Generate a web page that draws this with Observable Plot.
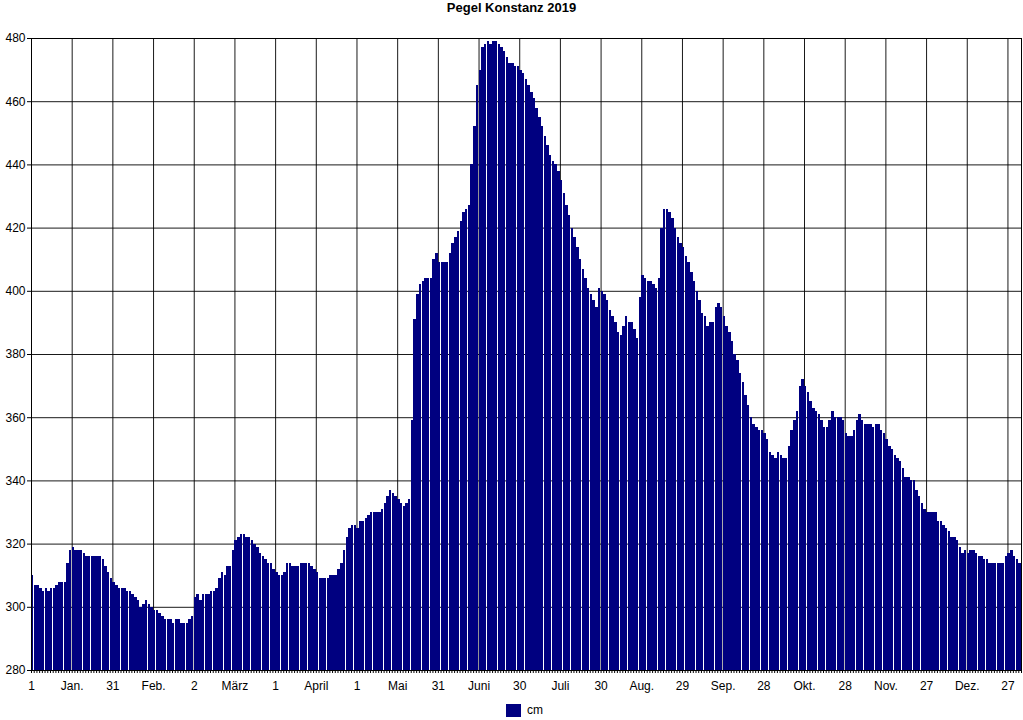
<!DOCTYPE html>
<html>
<head>
<meta charset="utf-8">
<script src="https://cdn.jsdelivr.net/npm/d3@7"></script>
<script src="https://cdn.jsdelivr.net/npm/@observablehq/plot@0.6"></script>
<style>
  body { margin: 0; background: #fff; font-family: "Liberation Sans", Arial, sans-serif; }
  #title { height: 20px; line-height: 16px; text-align: center; font-weight: bold; font-size: 13px; color: #000; }
  #chart svg { display: block; }
  #legend { display: flex; justify-content: center; align-items: center; gap: 6px; font-size: 12px; margin-top: 3px; padding-left: 26px; color: #000; }
  #legend .sw { display: inline-block; width: 15px; height: 13px; background: #000080; }
</style>
</head>
<body>
<div id="title">Pegel Konstanz 2019</div>
<div id="chart"></div>
<div id="legend"><span class="sw"></span><span>cm</span></div>
<script>
// Daily water level (cm), Pegel Konstanz 2019, one array per month
const jan = [310,307,307,306,305,306,305,306,306,307,308,308,308,314,318,319,318,318,318,317,316,316,316,316,316,316,315,313,311,309,308];
const feb = [307,306,306,306,305,305,304,303,302,300,301,302,301,300,299,299,298,297,296,296,296,295,296,296,295,295,295,296];
const mar = [297,303,304,302,304,304,304,305,305,306,309,311,310,313,313,318,321,322,323,323,322,322,321,320,319,317,316,315,314,314,312];
const apr = [311,310,310,311,314,314,313,313,313,314,314,314,314,313,312,311,309,309,309,309,310,310,310,312,314,318,322,325,326,326];
const may = [325,327,327,328,329,330,330,330,330,331,333,335,337,336,335,334,333,332,333,334,359,391,399,402,403,404,404,404,410,412,409];
const jun = [409,409,409,412,415,417,419,422,425,426,427,440,452,465,470,477,478,479,478,479,479,478,477,476,474,472,472,471,471,470];
const jul = [469,467,465,463,461,458,455,452,449,446,443,441,440,438,435,431,427,424,420,417,414,410,407,404,401,399,397,395,401,400,399];
const aug = [397,394,392,390,387,386,389,392,390,390,388,385,398,405,404,403,403,402,401,404,420,426,426,425,423,420,417,415,414,411,409];
const sep = [406,403,400,397,393,392,389,390,390,395,396,395,392,389,387,384,380,378,374,371,367,364,360,358,357,356,356,355,353,349];
const oct = [348,347,349,348,347,347,351,356,359,362,370,372,370,368,365,363,362,361,359,357,357,359,362,360,360,360,359,355,354,354,356];
const nov = [359,361,359,358,358,358,357,358,358,356,355,353,351,350,348,347,346,344,341,341,340,340,337,335,333,331,330,330,330,330];
const dec = [327,327,326,325,324,322,322,321,319,317,318,317,318,318,317,316,316,315,315,314,314,314,314,314,314,316,317,318,316,315,314];

// x-axis tick labels (every 15 days, starting on day 1)
const tickLabels = ["1","Jan.","31","Feb.","2","März","1","April","1","Mai","31","Juni","30","Juli","30","Aug.","29","Sep.","28","Okt.","28","Nov.","27","Dez.","27"];
const tickStep = 15;
const yTicks = [280,300,320,340,360,380,400,420,440,460,480];

const levels = [jan,feb,mar,apr,may,jun,jul,aug,sep,oct,nov,dec].flat();
const data = levels.map((v, i) => ({day: i + 1, value: v}));
const nDays = levels.length;
const xTicks = tickLabels.map((_, i) => i * tickStep);
const dayTicks = d3.range(0, nDays + 1);

const chart = Plot.plot({
  width: 1023,
  height: 680,
  marginTop: 18,
  marginLeft: 31,
  marginRight: 2,
  marginBottom: 30,
  style: {fontFamily: "'Liberation Sans', Arial, sans-serif", fontSize: "12px", color: "#000", background: "#fff"},
  x: {domain: [0, nDays], axis: null, label: null},
  y: {domain: [280, 480], axis: null, label: null},
  marks: [
    Plot.gridX(xTicks, {stroke: "#000", strokeOpacity: 0.9}),
    Plot.gridY(yTicks, {stroke: "#000", strokeOpacity: 0.9}),
    Plot.rectY(data, {
      x1: d => d.day - 1, x2: d => d.day, y1: 280, y2: "value",
      fill: "#000080", insetRight: 0.28, shapeRendering: "crispEdges"
    }),
    Plot.frame({stroke: "#000"}),
    Plot.axisY(yTicks, {tickSize: 4, tickPadding: 2, fontSize: 12, stroke: "#000", label: null}),
    Plot.axisX(dayTicks, {tickSize: 3, tickFormat: () => "", stroke: "#000", label: null}),
    Plot.axisX(xTicks, {tickSize: 0, tickPadding: 11, fontSize: 12, label: null, tickFormat: d => tickLabels[d / tickStep]})
  ]
});
document.getElementById("chart").appendChild(chart);
</script>
</body>
</html>
